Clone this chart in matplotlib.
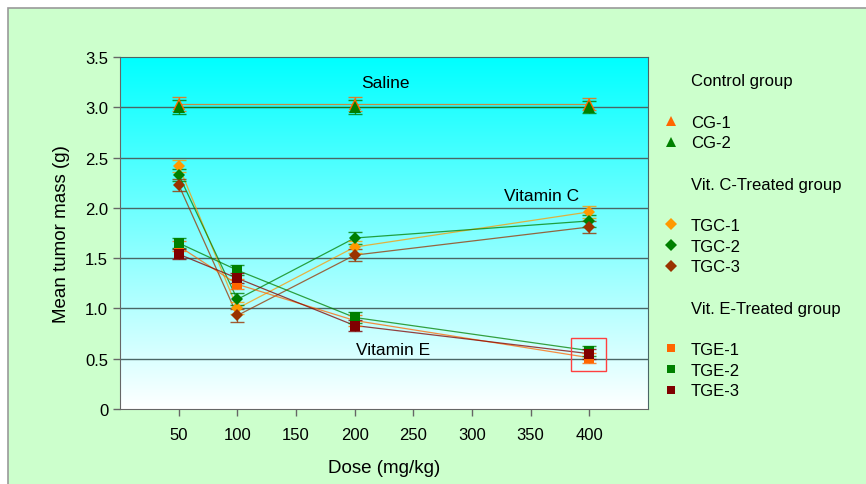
"""Mean tumor mass vs dose for control, vitamin C and vitamin E groups."""
import numpy as np
import matplotlib
matplotlib.use('Agg')
import matplotlib.pyplot as plt
from matplotlib.colors import LinearSegmentedColormap
from matplotlib.lines import Line2D
from matplotlib.patches import Rectangle

plt.rcParams['font.family'] = ['Liberation Sans', 'DejaVu Sans']

# doses (mg/kg)
control_doses = [50, 200, 400]
treated_doses = [50, 100, 200, 400]

# mean tumor mass (g)
cg1 = [3.03, 3.03, 3.03]
cg2 = [3.00, 3.00, 3.00]
tgc1 = [2.42, 1.00, 1.61, 1.96]
tgc2 = [2.33, 1.09, 1.70, 1.87]
tgc3 = [2.23, 0.93, 1.53, 1.81]
tge1 = [1.62, 1.24, 0.88, 0.51]
tge2 = [1.65, 1.38, 0.91, 0.58]
tge3 = [1.54, 1.30, 0.83, 0.55]

# standard deviations
cg_err = [0.07, 0.07, 0.06]
tgc_err = [0.06, 0.06, 0.06, 0.06]
tge_err = [0.05, 0.05, 0.05, 0.05]

x_ticks = [50, 100, 150, 200, 250, 300, 350, 400]
y_ticks = [0, 0.5, 1.0, 1.5, 2.0, 2.5, 3.0, 3.5]
y_tick_labels = ['0', '0.5', '1.0', '1.5', '2.0', '2.5', '3.0', '3.5']

ORANGE = '#ff6600'
LIGHT_ORANGE = '#ff9900'
GREEN = '#008000'
BROWN = '#993300'
MAROON = '#800000'

series = [
    ('CG-1', control_doses, cg1, cg_err, '^', ORANGE, 8),
    ('CG-2', control_doses, cg2, cg_err, '^', GREEN, 8),
    ('TGC-1', treated_doses, tgc1, tgc_err, 'D', LIGHT_ORANGE, 6),
    ('TGC-2', treated_doses, tgc2, tgc_err, 'D', GREEN, 6),
    ('TGC-3', treated_doses, tgc3, tgc_err, 'D', BROWN, 6),
    ('TGE-1', treated_doses, tge1, tge_err, 's', ORANGE, 6.5),
    ('TGE-2', treated_doses, tge2, tge_err, 's', GREEN, 6.5),
    ('TGE-3', treated_doses, tge3, tge_err, 's', MAROON, 6.5),
]

fig = plt.figure(figsize=(8.66, 4.85), dpi=100)
fig.patch.set_facecolor('white')
fig.patches.append(Rectangle((8 / 866, -0.01), 1.0, 1 - 9 / 485 + 0.01,
                             transform=fig.transFigure, facecolor='#ccffcc',
                             edgecolor='#999999', linewidth=1.2, zorder=-10))

ax = fig.add_axes([120 / 866, 1 - 410 / 485, 528 / 866, 352 / 485])
ax.set_xlim(0, 450)
ax.set_ylim(0, 3.5)

# cyan -> white gradient background
cmap = LinearSegmentedColormap.from_list('bg', ['#ffffff', '#00ffff'])
ax.imshow(np.linspace(0, 1, 256).reshape(-1, 1), cmap=cmap, aspect='auto',
          origin='lower', extent=[0, 450, 0, 3.5], zorder=0)

for y in y_ticks[1:-1]:
    ax.axhline(y, color='#4a6666', linewidth=1.0, zorder=1)

for label, xs, ys, err, marker, color, ms in series:
    ax.plot(xs, ys, color=color, linewidth=0.9, alpha=0.75, zorder=2)
    ax.errorbar(xs, ys, yerr=err, fmt='none', ecolor=color, elinewidth=1.0,
                capsize=5, capthick=1.0, alpha=0.8, zorder=3)
    ax.plot(xs, ys, linestyle='none', marker=marker, color=color,
            markersize=ms, markeredgewidth=0, zorder=4)

ax.add_patch(Rectangle((384, 0.38), 30, 0.33, fill=False, edgecolor='#ff4040',
                       linewidth=1.0, zorder=5))

ax.text(226, 3.25, 'Saline', fontsize=12.5, ha='center', va='center')
ax.text(359, 2.12, 'Vitamin C', fontsize=12.5, ha='center', va='center')
ax.text(233, 0.59, 'Vitamin E', fontsize=12.5, ha='center', va='center')

ax.set_xticks(x_ticks)
ax.set_xticklabels([str(v) for v in x_ticks], fontsize=12)
ax.set_yticks(y_ticks)
ax.set_yticklabels(y_tick_labels, fontsize=12)
ax.tick_params(direction='out', length=5, color='#666666', width=1)
ax.tick_params(axis='x', pad=8)
ax.set_xlabel('Dose (mg/kg)', fontsize=13.5, labelpad=12)
ax.set_ylabel('Mean tumor mass (g)', fontsize=13.5, labelpad=11)
for side in ['top', 'right']:
    ax.spines[side].set_color('#4a6666')
for side in ['left', 'bottom']:
    ax.spines[side].set_color('#666666')

# legend with group headers and blank rows
blank = Line2D([], [], linestyle='none')
handles, labels = [], []


def add_row(handle, text):
    handles.append(handle)
    labels.append(text)


def marker_handle(marker, color, ms):
    return Line2D([], [], linestyle='none', marker=marker, color=color,
                  markersize=ms, markeredgewidth=0)


add_row(blank, 'Control group')
add_row(blank, '')
for s in series[:2]:
    add_row(marker_handle(s[4], s[5], 7), s[0])
add_row(blank, '')
add_row(blank, 'Vit. C-Treated group')
add_row(blank, '')
for s in series[2:5]:
    add_row(marker_handle(s[4], s[5], 6), s[0])
add_row(blank, '')
add_row(blank, 'Vit. E-Treated group')
add_row(blank, '')
for s in series[5:]:
    add_row(marker_handle(s[4], s[5], 6), s[0])

fig.legend(handles, labels, loc='upper left', bbox_to_anchor=(655 / 866, 1 - 66 / 485),
           frameon=False, fontsize=12, handlelength=0.9, handletextpad=0.75,
           labelspacing=0.34, borderpad=0)

fig.savefig('out.png', dpi=100)
